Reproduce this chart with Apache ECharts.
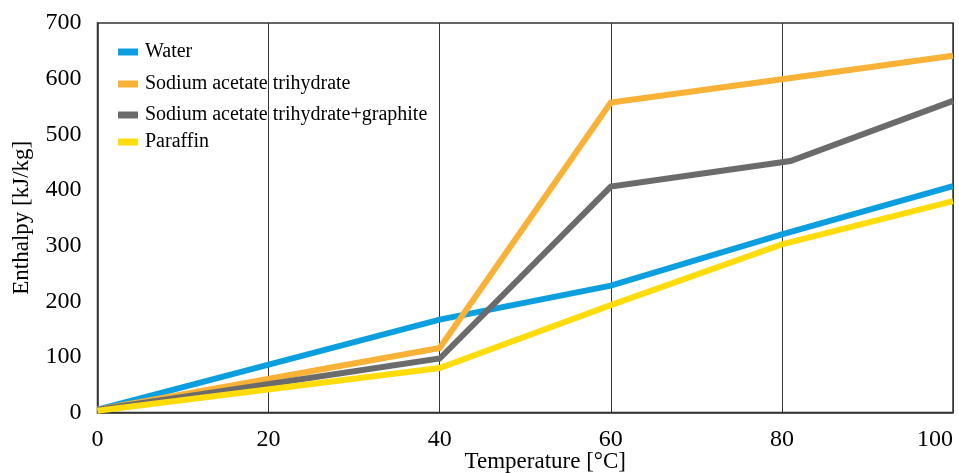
<!DOCTYPE html>
<html>
<head>
<meta charset="utf-8">
<script src="https://cdn.jsdelivr.net/npm/echarts@6/dist/echarts.min.js"></script>
<style>html,body{margin:0;padding:0;background:#fff}#c{width:959px;height:473px}</style>
</head>
<body>
<div id="c"></div>
<script>
const seriesNames = ['Water', 'Sodium acetate trihydrate', 'Sodium acetate trihydrate+graphite', 'Paraffin'];
const waterData = [[0, 5], [40, 167], [60, 228], [80, 320], [100, 407]];
const satData = [[0, 5], [40, 116], [60, 557], [80, 599], [100, 641]];
const satGraphiteData = [[0, 5], [40, 97], [60, 406], [81, 452], [100, 560]];
const paraffinData = [[0, 3], [40, 80], [60, 193], [80, 302], [100, 380]];
const xTicks = [0, 20, 40, 60, 80, 100];
const yTicks = [0, 100, 200, 300, 400, 500, 600, 700];
const colors = ['#0c9fe0', '#f9b136', '#6b6b6b', '#ffdc0a'];

const font = '"Liberation Serif", "Times New Roman", serif';
const chart = echarts.init(document.getElementById('c'));
const dataSets = [waterData, satData, satGraphiteData, paraffinData];
const legendTops = [42, 74, 105, 132];

chart.setOption({
  animation: false,
  grid: { left: 97.5, right: 6, top: 23, bottom: 60.5, outerBoundsMode: 'none', containLabel: false,
    show: true, borderColor: '#333', borderWidth: 1.5, backgroundColor: 'transparent' },
  legend: seriesNames.map((n, i) => ({
    data: [n], left: 118, top: legendTops[i], itemWidth: 20, itemHeight: 7, itemGap: 0, padding: 0,
    icon: 'rect', textStyle: { fontFamily: font, fontSize: 20, color: '#000', padding: [0, 0, 0, 2] }
  })),
  xAxis: {
    type: 'value', min: 0, max: 100, interval: 20,
    name: 'Temperature [°C]', nameLocation: 'middle', nameGap: 38, nameMoveOverlap: false,
    nameTextStyle: { fontFamily: font, fontSize: 23, color: '#000', padding: [0, 0, 0, 40] },
    axisLine: { show: true, lineStyle: { color: '#333', width: 1.5 } },
    axisTick: { show: false },
    axisLabel: { fontFamily: font, fontSize: 24, color: '#000', margin: 15, alignMaxLabel: 'right',
      formatter: v => xTicks.includes(v) ? String(v) : '' },
    splitLine: { show: true, lineStyle: { color: '#333', width: 1 } }
  },
  yAxis: {
    type: 'value', min: 0, max: 700, interval: 100,
    name: 'Enthalpy [kJ/kg]', nameLocation: 'middle', nameGap: 64, nameMoveOverlap: false,
    nameTextStyle: { fontFamily: font, fontSize: 23, color: '#000' },
    axisLine: { show: true, lineStyle: { color: '#333', width: 1.5 } },
    axisTick: { show: false },
    axisLabel: { fontFamily: font, fontSize: 24, color: '#000', margin: 16,
      formatter: v => yTicks.includes(v) ? String(v) : '' },
    splitLine: { show: false }
  },
  series: seriesNames.map((n, i) => ({
    name: n, type: 'line', data: dataSets[i], showSymbol: false, symbol: 'none',
    lineStyle: { color: colors[i], width: 6, join: 'miter' }, itemStyle: { color: colors[i] }
  }))
});
</script>
</body>
</html>
